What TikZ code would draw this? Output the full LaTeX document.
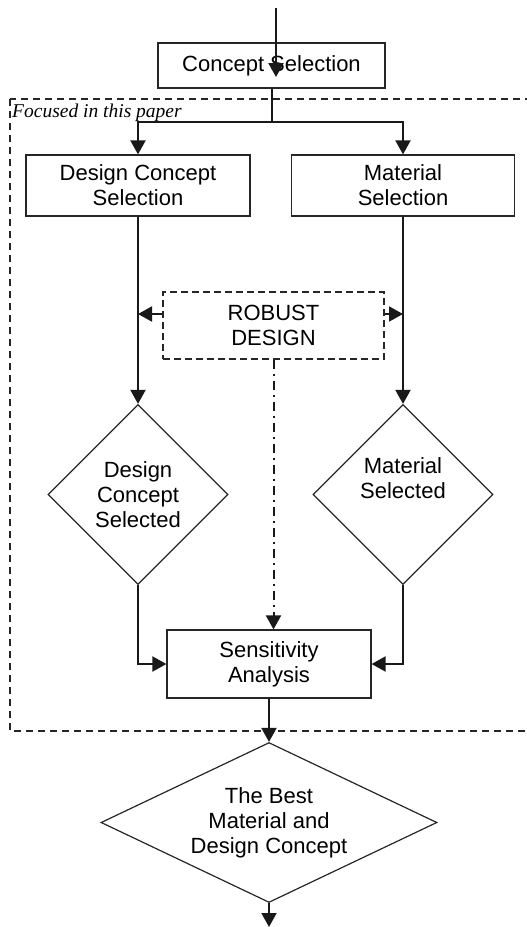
\documentclass[tikz,border=0pt]{standalone}
\usepackage{fontspec}
\setmainfont{Liberation Sans}
\newfontfamily\paperfont{Liberation Serif}
\usetikzlibrary{arrows.meta,shapes.geometric}

\begin{document}
\begin{tikzpicture}[
      x=1pt, y=-1pt,
      >={Triangle[length=14pt,width=15pt]},
      font=\fontsize{22}{25}\selectfont,
      proc/.style     ={rectangle, draw=black!85, line width=1.2pt, align=center, inner sep=0pt},
      decide/.style   ={diamond, draw=black!85, line width=1.2pt, align=center, inner sep=0pt},
      robustbox/.style={rectangle, draw=black!85, line width=1.2pt, dash pattern=on 7pt off 4pt,
                        align=center, inner sep=0pt},
      frame/.style    ={draw=black!85, line width=1.3pt, dash pattern=on 7pt off 5pt},
      flow/.style     ={->, draw=black!90, line width=2pt},
      dflow/.style    ={->, draw=black!90, line width=2pt, dash pattern=on 9pt off 5pt on 2pt off 5pt}
    ]
    \useasboundingbox (0,0) rectangle (527,927);
    % --- outer frame (focus of the paper) ---
    \draw[frame] (10,99) rectangle (545,731);
    \node[font=\paperfont\itshape\fontsize{19.5}{22}\selectfont, anchor=base west, inner sep=0pt]
         (focus) at (12,117) {Focused in this paper};
    % --- boxes and decisions (explicit coordinates, px) ---
    \node[proc, minimum width=227pt, minimum height=45pt] (concept) at (271.5,65.5) {Concept Selection};
    \node[proc, minimum width=224pt, minimum height=61pt] (dcsel)   at (138,185.5)  {Design Concept\\Selection};
    \node[proc, minimum width=223pt, minimum height=61pt] (matsel)  at (403,185.5)  {Material\\Selection};
    \node[robustbox, minimum width=221pt, minimum height=67pt] (robust) at (273.5,325.5) {ROBUST\\DESIGN};
    \node[decide, minimum width=180pt, minimum height=180pt] (dcdone)  at (138,494.5) {Design\\Concept\\Selected};
    \node[decide, minimum width=180pt, minimum height=180pt] (matdone) at (403,494.5) {Material\\Selected\\\strut};
    \node[proc, minimum width=204pt, minimum height=68pt] (sens) at (269,664) {Sensitivity\\Analysis};
    \node[decide, aspect=2.1, minimum width=336pt, minimum height=160pt] (best) at (269,822.5)
         {The Best\\Material and\\Design Concept};
    % --- free ends ---
    \coordinate (start) at (276,8);
    \coordinate (entry) at (276,77);
    \coordinate (split) at (271.5,122);
    \coordinate (sink)  at (269,927);
    % --- arrows ---
    \draw[flow] (start) -- (entry);
    \draw[line width=2pt, draw=black!90] (concept.south) -- (split);
    \draw[flow] (split) -| (dcsel.north);
    \draw[flow] (split) -| (matsel.north);
    \draw[flow] (dcsel.south) -- (dcdone.north);
    \draw[flow] (matsel.south) -- (matdone.north);
    \draw[flow] ([yshift=11.5pt]robust.west) -- ([yshift=11.5pt]robust.west -| dcsel.south);
    \draw[flow] ([yshift=11.5pt]robust.east) -- ([yshift=11.5pt]robust.east -| matsel.south);
    \draw[dflow] (robust.south) -- (robust.south |- sens.north);
    \draw[flow] (dcdone.south) |- (sens.west);
    \draw[flow] (matdone.south) |- (sens.east);
    \draw[flow] (sens.south) -- (best.north);
    \draw[flow] (best.south) -- (sink);
  \end{tikzpicture}
\end{document}
